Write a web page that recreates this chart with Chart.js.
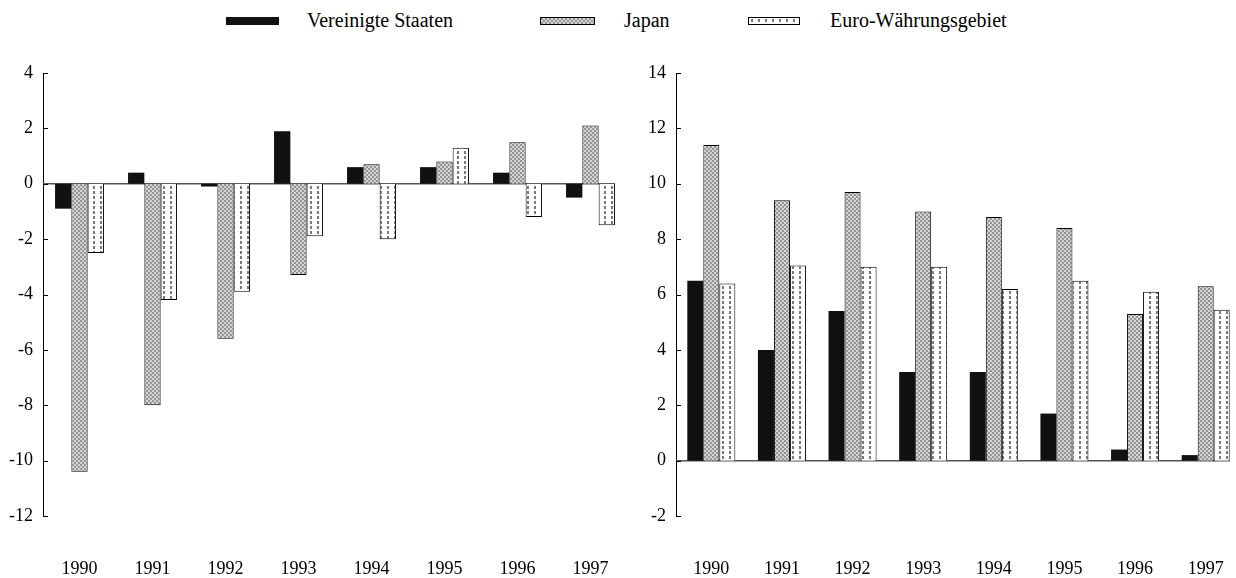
<!DOCTYPE html>
<html lang="de">
<head>
<meta charset="UTF-8">
<title>Vereinigte Staaten, Japan, Euro-Währungsgebiet</title>
<script src="https://cdn.jsdelivr.net/npm/chart.js"></script>
<style>
    html, body { margin: 0; padding: 0; background: #fff; overflow: hidden; }
    body { width: 1236px; height: 578px; position: relative; font-family: 'Liberation Serif', serif; }
    #links { position: absolute; left: 0; top: 0; }
    #rechts { position: absolute; left: 636px; top: 0; }
    .leg { position: absolute; top: 10px; font-size: 20px; line-height: 20px; color: #000; white-space: nowrap; }
    .box { position: absolute; box-sizing: border-box; }
</style>
</head>
<body>
<div id="legende"></div>
<canvas id="links" width="630" height="578"></canvas>
<canvas id="rechts" width="605" height="578"></canvas>
<script>
    // Daten
    const jahre = ['1990', '1991', '1992', '1993', '1994', '1995', '1996', '1997'];
    const serien = ['Vereinigte Staaten', 'Japan', 'Euro-Währungsgebiet'];

    const usLinks = [-0.9, 0.4, -0.1, 1.9, 0.6, 0.6, 0.4, -0.5];
    const japanLinks = [-10.4, -8.0, -5.6, -3.3, 0.7, 0.8, 1.5, 2.1];
    const euroLinks = [-2.5, -4.2, -3.9, -1.9, -2.0, 1.3, -1.2, -1.5];

    const usRechts = [6.5, 4.0, 5.4, 3.2, 3.2, 1.7, 0.4, 0.2];
    const japanRechts = [11.4, 9.4, 9.7, 9.0, 8.8, 8.4, 5.3, 6.3];
    const euroRechts = [6.4, 7.05, 7.0, 7.0, 6.2, 6.5, 6.1, 5.45];

    const schrift = "'Liberation Serif', serif";

    // Muster (Raster wie im Druck)
    function kachelJapan() {
        const c = document.createElement('canvas');
        c.width = 4; c.height = 4;
        const g = c.getContext('2d');
        g.fillStyle = '#d4d4d4';
        g.fillRect(0, 0, 4, 4);
        g.fillStyle = '#959595';
        g.fillRect(0, 0, 2, 2);
        g.fillRect(2, 2, 2, 2);
        return c;
    }
    function kachelEuro() {
        const c = document.createElement('canvas');
        c.width = 7; c.height = 5;
        const g = c.getContext('2d');
        g.fillStyle = '#ffffff';
        g.fillRect(0, 0, 7, 5);
        g.fillStyle = '#7a7a7a';
        g.fillRect(2, 1, 2, 3);
        return c;
    }
    const kJapan = kachelJapan();
    const kEuro = kachelEuro();
    const hilf = document.createElement('canvas').getContext('2d');
    const musterJapan = hilf.createPattern(kJapan, 'repeat');
    const musterEuro = hilf.createPattern(kEuro, 'repeat');

    // Legende oben (HTML)
    const legende = document.getElementById('legende');
    const legPos = [
        { box: 226, breite: 53, text: 307, fuell: '#111', rand: false },
        { box: 540, breite: 55, text: 624, fuell: 'url(' + kJapan.toDataURL() + ')', rand: true },
        { box: 748, breite: 52, text: 830, fuell: 'url(' + kEuro.toDataURL() + ')', rand: true }
    ];
    serien.forEach((name, i) => {
        const p = legPos[i];
        const b = document.createElement('div');
        b.className = 'box';
        b.style.left = p.box + 'px';
        b.style.width = p.breite + 'px';
        b.style.top = '17px';
        b.style.height = '8px';
        if (p.rand) {
            b.style.backgroundImage = p.fuell;
            b.style.border = '1px solid #000';
        } else {
            b.style.background = p.fuell;
        }
        legende.appendChild(b);
        const t = document.createElement('div');
        t.className = 'leg';
        t.style.left = p.text + 'px';
        t.textContent = name;
        legende.appendChild(t);
    });

    // Nulllinie bis zum letzten Balken, kleine Striche nach innen an der y-Achse
    const achsenDeko = {
        id: 'achsenDeko',
        beforeDatasetsDraw(chart) {
            const ctx = chart.ctx;
            const y = chart.scales.y;
            const meta = chart.getDatasetMeta(chart.data.datasets.length - 1);
            const letzter = meta.data[meta.data.length - 1];
            const ende = letzter.x + letzter.width / 2;
            const py = y.getPixelForValue(0);
            ctx.save();
            ctx.strokeStyle = '#555';
            ctx.lineWidth = 1.5;
            ctx.beginPath();
            ctx.moveTo(chart.chartArea.left, py);
            ctx.lineTo(ende, py);
            ctx.stroke();
            ctx.restore();
        },
        afterDraw(chart) {
            const ctx = chart.ctx;
            const y = chart.scales.y;
            const links = chart.chartArea.left;
            ctx.save();
            ctx.strokeStyle = '#000';
            ctx.lineWidth = 1;
            y.ticks.forEach(t => {
                const py = Math.round(y.getPixelForValue(t.value)) + 0.5;
                ctx.beginPath();
                ctx.moveTo(links, py);
                ctx.lineTo(links + 5, py);
                ctx.stroke();
            });
            ctx.restore();
        }
    };

    function zeichne(id, us, japan, euro, min, max, achsBreite, kat, rechtsPad) {
        new Chart(document.getElementById(id), {
            type: 'bar',
            data: {
                labels: jahre,
                datasets: [
                    { label: serien[0], data: us, backgroundColor: '#111', borderWidth: 0 },
                    { label: serien[1], data: japan, backgroundColor: musterJapan, borderColor: '#000', borderWidth: 1 },
                    { label: serien[2], data: euro, backgroundColor: musterEuro, borderColor: '#000', borderWidth: 1 }
                ]
            },
            options: {
                responsive: false,
                animation: false,
                devicePixelRatio: 1,
                layout: { padding: { top: 73, right: rechtsPad, bottom: 0, left: 0 } },
                datasets: { bar: { categoryPercentage: kat, barPercentage: 1 } },
                plugins: { legend: { display: false }, tooltip: { enabled: false } },
                scales: {
                    x: {
                        grid: { display: false, tickLength: 44 },
                        border: { display: false },
                        ticks: {
                            color: '#000',
                            padding: 0,
                            maxRotation: 0,
                            font: { family: schrift, size: 18, lineHeight: 1 }
                        }
                    },
                    y: {
                        min: min,
                        max: max,
                        afterFit: s => { s.width = achsBreite; },
                        border: { display: true, color: '#000', width: 1 },
                        grid: { display: false, drawTicks: false },
                        ticks: {
                            stepSize: 2,
                            color: '#000',
                            padding: 10,
                            font: { family: schrift, size: 18 }
                        }
                    }
                }
            },
            plugins: [achsenDeko]
        });
    }

    zeichne('links', usLinks, japanLinks, euroLinks, -12, 4, 43, 0.67, 3);
    zeichne('rechts', usRechts, japanRechts, euroRechts, -2, 14, 40, 0.68, 0);
</script>
</body>
</html>
